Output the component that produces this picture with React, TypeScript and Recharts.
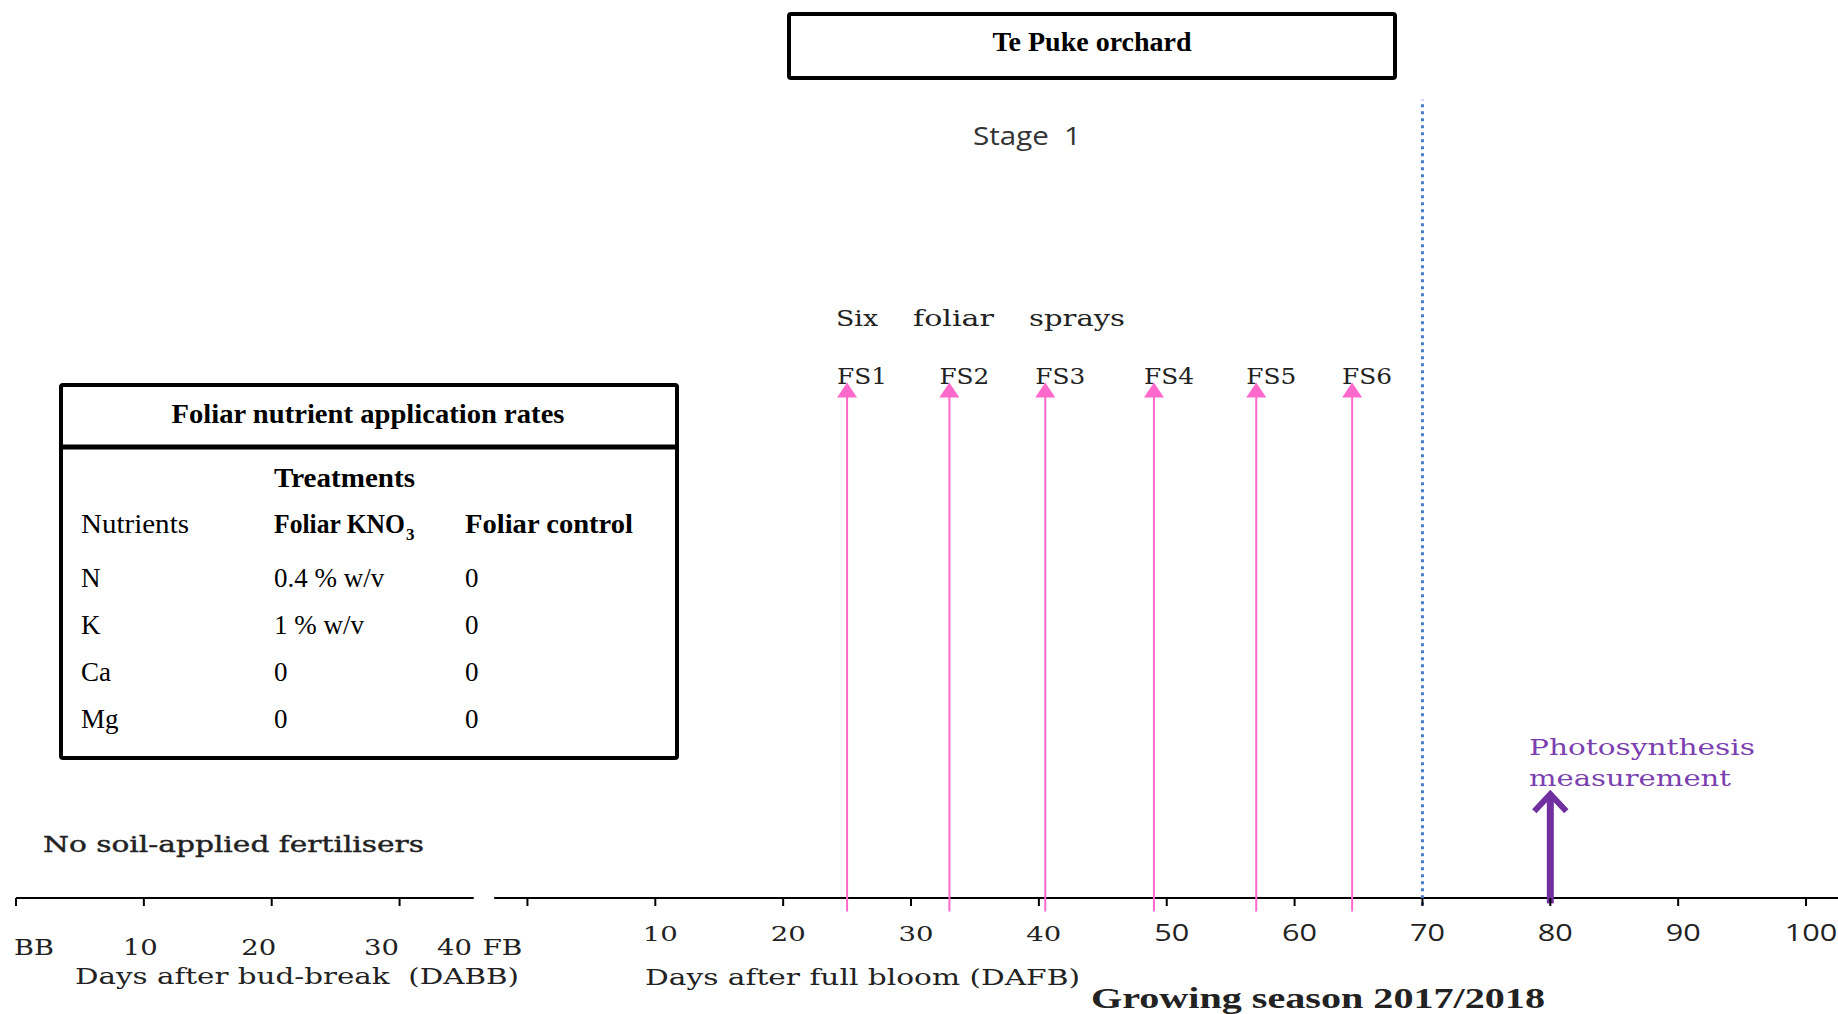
import { ComposedChart, ReferenceLine, Scatter, XAxis, YAxis } from "recharts";

// timeline in days after bud-break; full bloom falls on day 40
const FULL_BLOOM_DABB = 40;
const dabbTicks = [0, 10, 20, 30];
const dabbLabels = ["BB", "10", "20", "30"];
const dafbTicks = [0, 10, 20, 30, 40, 50, 60, 70, 80, 90, 100];
const dafbLabels = ["", "10", "20", "30", "40", "50", "60", "70", "80", "90", "100"];

const sprayLabels = ["FS1", "FS2", "FS3", "FS4", "FS5", "FS6"];
const sprayDafb = [25, 33, 40.5, 49, 57, 64.5];
const stageEndDafb = 70;
const photosynthesisDafb = 80;

const nutrients = ["N", "K", "Ca", "Mg"];
const foliarKno3 = ["0.4 % w/v", "1 % w/v", "0", "0"];
const foliarControl = ["0", "0", "0", "0"];

// vertical extents on a 0-100 scale (0 = time axis)
const SPRAY_TOP = 57.4;
const SPRAY_BASE = -1.5;
const STAGE_TOP = 88.9;
const PHOTO_TOP = 12;
const PHOTO_BASE = -0.6;
const AXIS_BREAK = [35.8, 37.4];
const X_MAX = 142.5;

const W = 1838;
const H = 1014;
const PINK = "#ff69cc";
const PURPLE = "#7030a0";
const BLUE = "#4a7cc7";
const SLAB = "'DejaVu Serif', serif";
const SERIF = "'Liberation Serif', serif";
const SANS = "'Open Sans', sans-serif";
const STRETCH = "spacingAndGlyphs";

const toDabb = (dafb: number) => FULL_BLOOM_DABB + dafb;

const sprayPoints = sprayDafb.map((d, i) => ({
  x: toDabb(d),
  y: SPRAY_TOP,
  label: sprayLabels[i],
}));

const allTicks = [...dabbTicks, ...dafbTicks.map(toDabb)];

function SlabLabel({ x, y, text, anchor = "middle" }: any) {
  const len = text === "BB" || text === "FB" ? 40 : 35;
  return (
    <text
      x={x}
      y={y}
      textAnchor={anchor}
      fontFamily={SLAB}
      fontSize={22}
      textLength={len}
      lengthAdjust={STRETCH}
      fill="#222"
    >
      {text}
    </text>
  );
}

function TimeTick(props: any) {
  const { x, y, payload } = props;
  const v: number = payload.value;
  const mark = <line x1={x} y1={y} x2={x} y2={y + 8} stroke="#000" strokeWidth={2} />;
  if (v < FULL_BLOOM_DABB) {
    const i = dabbTicks.indexOf(v);
    const shift = [-2, -3.5, -13, -18][i];
    return (
      <g>
        {mark}
        <SlabLabel x={x + shift} y={y + 57} text={dabbLabels[i]} anchor={i === 0 ? "start" : "middle"} />
      </g>
    );
  }
  const d = v - FULL_BLOOM_DABB;
  const label = dafbLabels[dafbTicks.indexOf(d)];
  if (d === 0) {
    return (
      <g>
        {mark}
        <SlabLabel x={x - 73} y={y + 57} text="40" />
        <SlabLabel x={x - 25} y={y + 57} text="FB" />
      </g>
    );
  }
  const serif = d <= 40;
  return (
    <g>
      {mark}
      <text
        x={x + 5}
        y={y + 43}
        textAnchor="middle"
        fontFamily={serif ? SLAB : SANS}
        fontSize={serif ? 21 : 23}
        textLength={label.length * 17.5}
        lengthAdjust={STRETCH}
        fill="#222"
      >
        {label}
      </text>
    </g>
  );
}

function SprayHead(props: any) {
  const { cx, cy, payload } = props;
  return (
    <g>
      <text
        x={cx - 10}
        y={cy + 1}
        fontFamily={SLAB}
        fontSize={23}
        textLength={50}
        lengthAdjust={STRETCH}
        fill="#222"
      >
        {payload.label}
      </text>
      <polygon points={`${cx},${cy} ${cx - 10},${cy + 15} ${cx + 10},${cy + 15}`} fill={PINK} />
    </g>
  );
}

function PhotoArrow(props: any) {
  const { x1, y1, x2, y2 } = props;
  const top = Math.min(y1, y2);
  const bottom = Math.max(y1, y2);
  return (
    <g>
      <line x1={x1} y1={bottom} x2={x2} y2={top + 4} stroke={PURPLE} strokeWidth={7} />
      <polyline
        points={`${x1 - 16},${top + 21} ${x1},${top + 4} ${x1 + 16},${top + 21}`}
        fill="none"
        stroke={PURPLE}
        strokeWidth={6}
        strokeLinejoin="miter"
      />
    </g>
  );
}

function Annotations() {
  const rowY = [587, 634, 681, 728];
  const fit = (len: number) => ({ textLength: len, lengthAdjust: STRETCH });
  return (
    <svg width={W} height={H} style={{ position: "absolute", left: 0, top: 0, pointerEvents: "none" }}>
      {/* title box */}
      <rect x={789} y={14} width={606} height={64} fill="none" stroke="#000" strokeWidth={4} rx={2} />
      <text x={1092} y={51} textAnchor="middle" fontFamily={SERIF} fontWeight="bold" fontSize={28}>
        Te Puke orchard
      </text>

      <text x={973} y={145} fontFamily={SANS} fontSize={25} fill="#333" {...fit(108)}>
        Stage{"\u00a0\u00a0"}1
      </text>

      <g fontFamily={SLAB} fontSize={23} fill="#222">
        <text x={836} y={326} {...fit(42)}>Six</text>
        <text x={913} y={326} {...fit(81)}>foliar</text>
        <text x={1029} y={326} {...fit(96)}>sprays</text>
      </g>

      {/* application rates table */}
      <rect x={61} y={385} width={616} height={373} fill="none" stroke="#000" strokeWidth={4} rx={2} />
      <line x1={59} y1={447} x2={679} y2={447} stroke="#000" strokeWidth={5} />
      <g fontFamily={SERIF} fontSize={27} fill="#000">
        <text x={368} y={423} textAnchor="middle" fontWeight="bold" {...fit(393)}>
          Foliar nutrient application rates
        </text>
        <text x={274} y={487} fontWeight="bold" {...fit(141)}>
          Treatments
        </text>
        <text x={81} y={533} {...fit(108)}>
          Nutrients
        </text>
        <text x={274} y={533} fontWeight="bold" {...fit(131)}>
          Foliar KNO
        </text>
        <text x={406} y={540} fontWeight="bold" fontSize={17}>
          3
        </text>
        <text x={465} y={533} fontWeight="bold" {...fit(168)}>
          Foliar control
        </text>
        {nutrients.map((n, i) => (
          <g key={n}>
            <text x={81} y={rowY[i]}>{n}</text>
            <text x={274} y={rowY[i]}>{foliarKno3[i]}</text>
            <text x={465} y={rowY[i]}>{foliarControl[i]}</text>
          </g>
        ))}
      </g>

      <text x={43} y={852} fontFamily={SLAB} fontSize={22} fill="#222" stroke="#222" strokeWidth={0.4} {...fit(381)}>
        No soil-applied fertilisers
      </text>

      <g fontFamily={SLAB} fontSize={23} fill="#7c3fb0">
        <text x={1529} y={755} {...fit(226)}>Photosynthesis</text>
        <text x={1529} y={786} {...fit(202)}>measurement</text>
      </g>

      <text x={75} y={984} fontFamily={SLAB} fontSize={22} fill="#222" {...fit(444)}>
        Days after bud-break{"\u00a0\u00a0"}(DABB)
      </text>
      <text x={645} y={985} fontFamily={SLAB} fontSize={23} fill="#222" {...fit(435)}>
        Days after full bloom (DAFB)
      </text>
      <text x={1091} y={1008} fontFamily={SERIF} fontWeight="bold" fontSize={29} fill="#222" {...fit(454)}>
        Growing season 2017/2018
      </text>
    </svg>
  );
}

export default function App() {
  return (
    <div style={{ position: "absolute", left: 0, top: 0, width: W, height: H, background: "#fff", overflow: "hidden" }}>
      <ComposedChart width={W} height={H} data={sprayPoints} margin={{ top: 0, right: 0, bottom: 0, left: 16 }}>
        <XAxis
          type="number"
          dataKey="x"
          domain={[0, X_MAX]}
          ticks={allTicks}
          interval={0}
          axisLine={false}
          tickLine={false}
          tickSize={0}
          tickMargin={0}
          height={H - 898}
          tick={TimeTick}
          allowDataOverflow
        />
        <YAxis type="number" domain={[0, 100]} hide allowDataOverflow />

        {/* broken time axis */}
        <ReferenceLine
          segment={[{ x: 0, y: 0 }, { x: AXIS_BREAK[0], y: 0 }]}
          stroke="#000"
          strokeWidth={2}
          ifOverflow="visible"
        />
        <ReferenceLine
          segment={[{ x: AXIS_BREAK[1], y: 0 }, { x: X_MAX, y: 0 }]}
          stroke="#000"
          strokeWidth={2}
          ifOverflow="visible"
        />

        {/* end of stage 1 */}
        <ReferenceLine
          segment={[{ x: toDabb(stageEndDafb), y: -0.8 }, { x: toDabb(stageEndDafb), y: STAGE_TOP }]}
          stroke={BLUE}
          strokeWidth={3}
          strokeDasharray="3 4"
          ifOverflow="visible"
        />

        {sprayPoints.map((p) => (
          <ReferenceLine
            key={p.label}
            segment={[{ x: p.x, y: SPRAY_BASE }, { x: p.x, y: SPRAY_TOP - 1 }]}
            stroke={PINK}
            strokeWidth={2}
            ifOverflow="visible"
          />
        ))}
        <Scatter dataKey="y" data={sprayPoints} shape={SprayHead} isAnimationActive={false} />

        <ReferenceLine
          segment={[{ x: toDabb(photosynthesisDafb), y: PHOTO_BASE }, { x: toDabb(photosynthesisDafb), y: PHOTO_TOP }]}
          shape={PhotoArrow}
          ifOverflow="visible"
        />
      </ComposedChart>
      <Annotations />
    </div>
  );
}
